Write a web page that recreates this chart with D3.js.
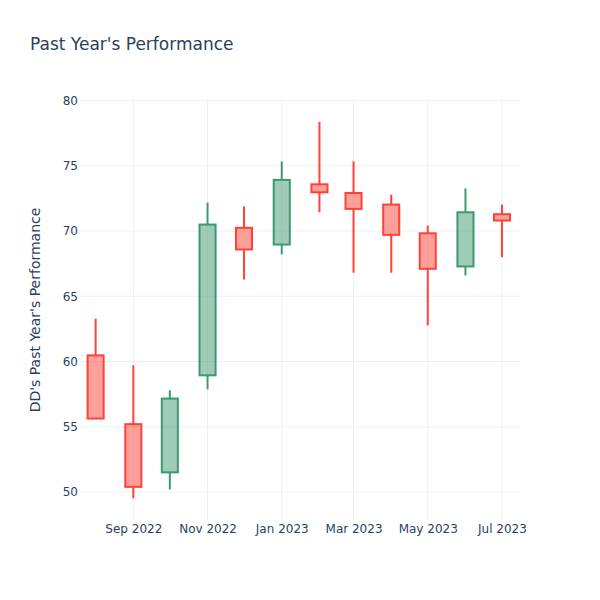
<!DOCTYPE html>
<html>
<head>
<meta charset="utf-8">
<script src="https://cdn.jsdelivr.net/npm/d3@7"></script>
<style>
  html, body { margin: 0; padding: 0; background: #fff; }
  svg { display: block; font-family: "DejaVu Sans", verdana, sans-serif; }
</style>
</head>
<body>
<svg id="chart" width="600" height="600"></svg>
<script>
// ---- data (monthly OHLC) ----
const dates = ["2022-08-01","2022-09-01","2022-10-01","2022-11-01","2022-12-01","2023-01-01",
               "2023-02-01","2023-03-01","2023-04-01","2023-05-01","2023-06-01","2023-07-01"];
const openVals  = [60.47, 55.20, 51.51, 58.94, 70.24, 68.96, 73.57, 72.91, 72.02, 69.82, 67.28, 71.28];
const highVals  = [63.28, 59.71, 57.80, 72.17, 71.89, 75.33, 78.36, 75.33, 72.78, 70.41, 73.26, 72.02];
const lowVals   = [55.60, 49.52, 50.21, 57.87, 66.28, 68.20, 71.43, 66.80, 66.80, 62.77, 66.59, 67.99];
const closeVals = [55.63, 50.40, 57.16, 70.49, 68.58, 73.91, 72.96, 71.69, 69.70, 67.10, 71.43, 70.80];
const yTicks = [50, 55, 60, 65, 70, 75, 80];
const xTickDates = ["2022-09-01","2022-11-01","2023-01-01","2023-03-01","2023-05-01","2023-07-01"];
const xTickLabels = ["Sep 2022","Nov 2022","Jan 2023","Mar 2023","May 2023","Jul 2023"];
const titleText = "Past Year's Performance";
const yTitleText = "DD's Past Year's Performance";

// ---- layout ----
const W = 600, H = 600;
const m = {l: 80, r: 80, t: 100, b: 80};
const incColor = "#3D9970", decColor = "#FF4136";
const incFill = "rgba(61,153,112,0.5)", decFill = "rgba(255,65,54,0.5)";
const textColor = "#2a3f5f", gridColor = "#EBF0F8";
const fontFam = '"DejaVu Sans", verdana, sans-serif';

const parse = d3.utcParse("%Y-%m-%d");
const data = dates.map((d, i) => ({
  date: parse(d), open: openVals[i], high: highVals[i], low: lowVals[i], close: closeVals[i]
}));

const svg = d3.select("#chart");

const x = d3.scaleUtc()
  .domain([new Date(Date.UTC(2022, 6, 19, 4)), new Date(Date.UTC(2023, 6, 15, 20))])
  .range([m.l, W - m.r]);
const y = d3.scaleLinear().domain([47.86, 80.03]).range([H - m.b, m.t]);

// grid
const g = svg.append("g");
g.selectAll("line.ygrid").data(yTicks).join("line")
  .attr("x1", m.l).attr("x2", W - m.r)
  .attr("y1", d => y(d)).attr("y2", d => y(d))
  .attr("stroke", gridColor).attr("stroke-width", 1);
g.selectAll("line.xgrid").data(xTickDates.map(parse)).join("line")
  .attr("x1", d => x(d)).attr("x2", d => x(d))
  .attr("y1", m.t).attr("y2", H - m.b)
  .attr("stroke", gridColor).attr("stroke-width", 1);

// axes (labels only, plotly_white style)
const yAxis = d3.axisLeft(y).tickValues(yTicks).tickSize(0).tickPadding(2);
const yg = svg.append("g").attr("transform", `translate(${m.l},0)`).call(yAxis);
yg.select(".domain").remove();
yg.selectAll("text").attr("fill", textColor).style("font-size", "12px")
  .style("font-family", fontFam);

const xAxis = d3.axisBottom(x).tickValues(xTickDates.map(parse))
  .tickFormat((d, i) => xTickLabels[i]).tickSize(0).tickPadding(4.5);
const xg = svg.append("g").attr("transform", `translate(0,${H - m.b})`).call(xAxis);
xg.select(".domain").remove();
xg.selectAll("text").attr("fill", textColor).style("font-size", "12px")
  .style("font-family", fontFam);

// candles
const halfDays = 6.6;
const dayMs = 86400000;
const candles = svg.append("g");
const cg = candles.selectAll("g.candle").data(data).join("g");
cg.each(function(d) {
  const sel = d3.select(this);
  const up = d.close >= d.open;
  const col = up ? incColor : decColor;
  const fill = up ? incFill : decFill;
  const cx = x(d.date);
  const x0 = x(new Date(d.date.getTime() - halfDays * dayMs));
  const x1 = x(new Date(d.date.getTime() + halfDays * dayMs));
  const top = y(Math.max(d.open, d.close));
  const bot = y(Math.min(d.open, d.close));
  sel.append("line").attr("x1", cx).attr("x2", cx)
    .attr("y1", y(d.high)).attr("y2", top)
    .attr("stroke", col).attr("stroke-width", 2);
  sel.append("line").attr("x1", cx).attr("x2", cx)
    .attr("y1", bot).attr("y2", y(d.low))
    .attr("stroke", col).attr("stroke-width", 2);
  sel.append("rect").attr("x", x0).attr("y", top)
    .attr("width", x1 - x0).attr("height", Math.max(0.5, bot - top))
    .attr("fill", fill).attr("stroke", col).attr("stroke-width", 2);
});

// titles
svg.append("text").attr("x", 30).attr("y", 50)
  .attr("fill", textColor).style("font-size", "17px")
  .style("font-family", fontFam).text(titleText);
svg.append("text")
  .attr("transform", `translate(40,${(m.t + H - m.b) / 2}) rotate(-90)`)
  .attr("text-anchor", "middle").attr("fill", textColor)
  .style("font-size", "14px").style("font-family", fontFam).text(yTitleText);
</script>
</body>
</html>
